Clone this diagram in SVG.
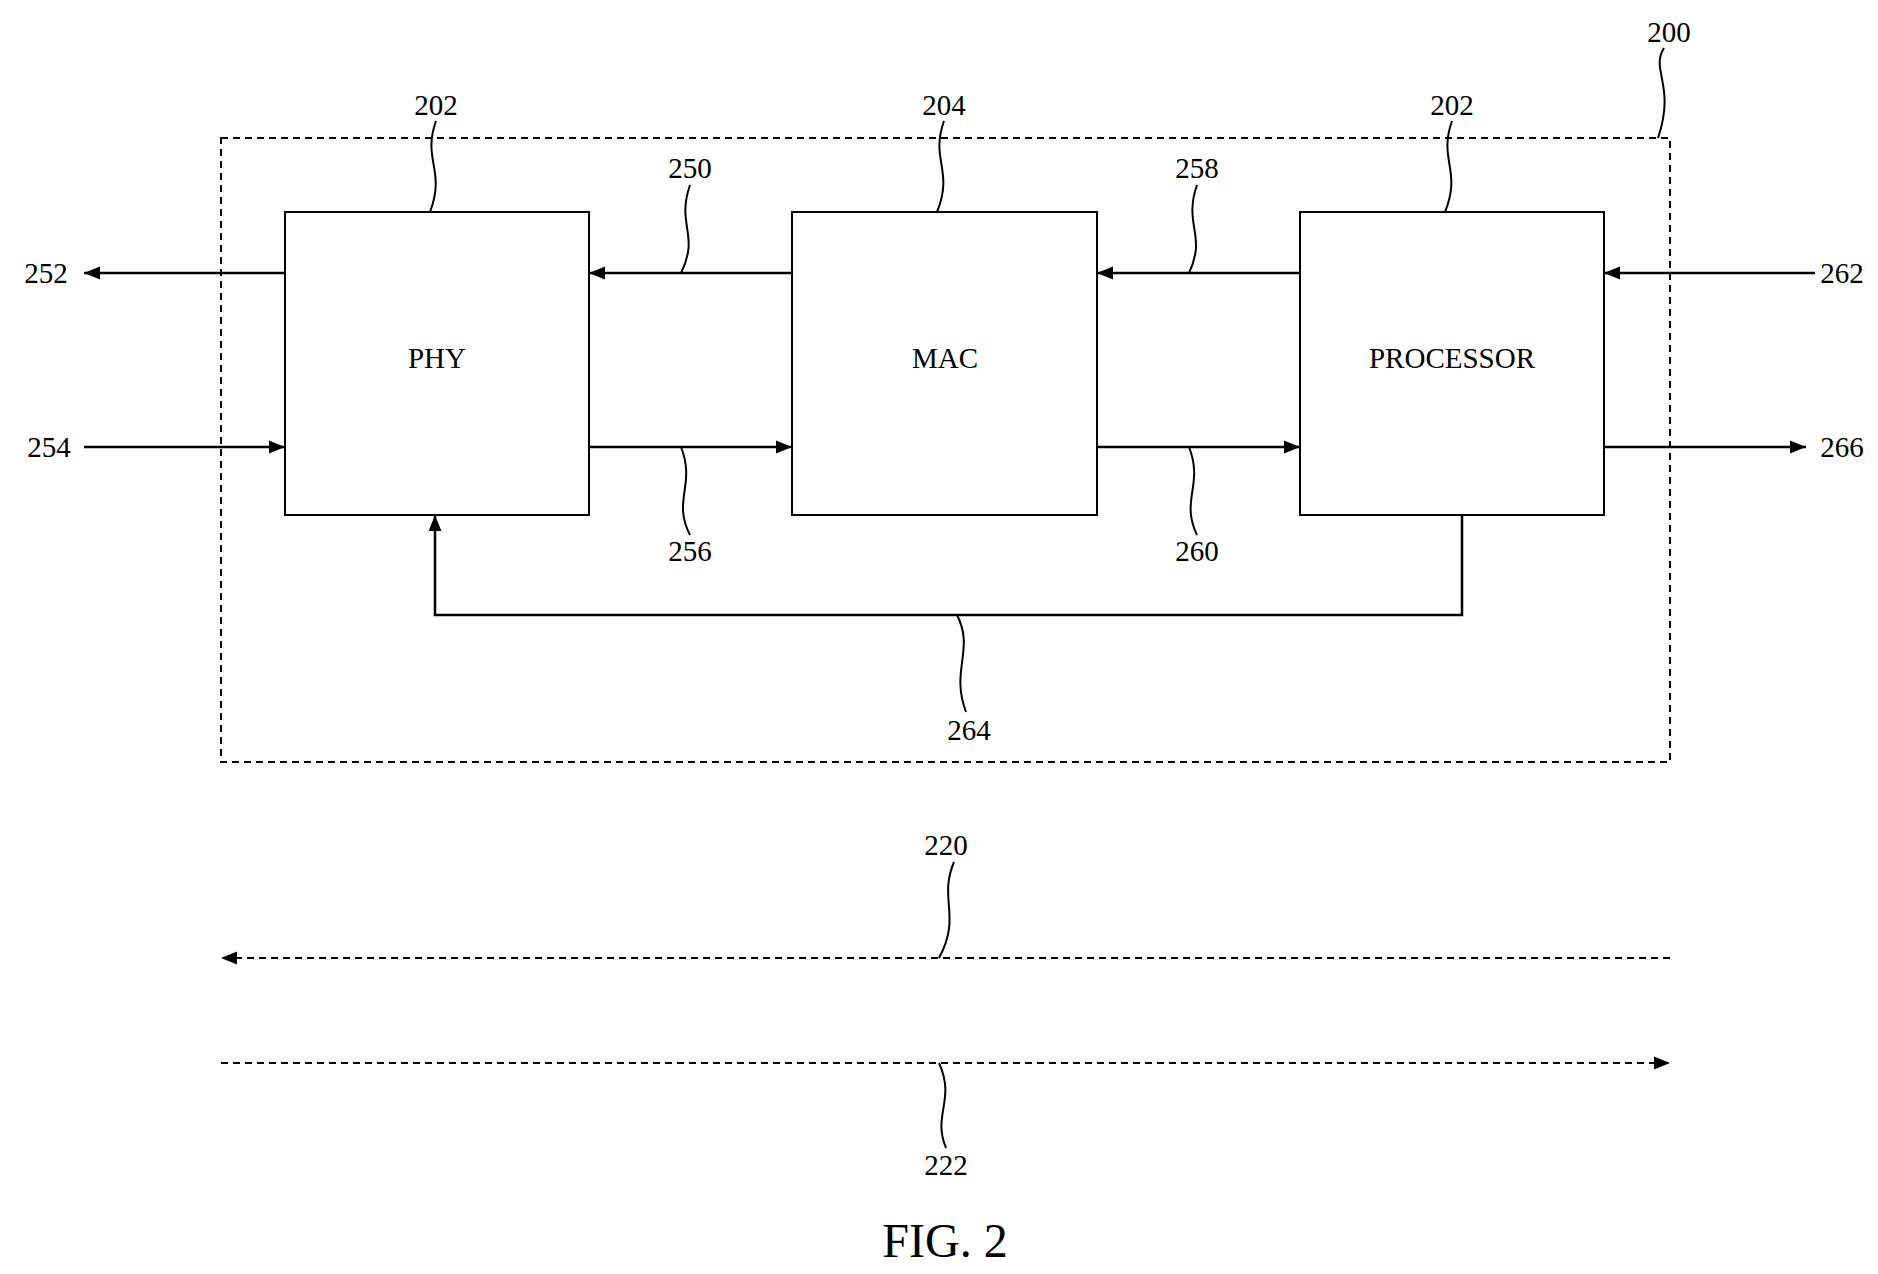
<svg xmlns="http://www.w3.org/2000/svg" width="1878" height="1274" viewBox="0 0 1878 1274">
<style>
text{font-family:"Liberation Serif","Times New Roman",serif;font-size:29px;fill:#000;text-anchor:middle}
.box{fill:#fff;stroke:#000;stroke-width:2}
.ln{fill:none;stroke:#000;stroke-width:2.5}
.sq{fill:none;stroke:#000;stroke-width:2}
.dash{fill:none;stroke:#000;stroke-width:2;stroke-dasharray:7,5}
</style>
<defs>
<marker id="ah" viewBox="0 0 10 10" refX="10" refY="5" markerWidth="7" markerHeight="7" markerUnits="userSpaceOnUse" orient="auto"><path d="M0,0 L10,5 L0,10 z" fill="#000"/></marker>
<marker id="ahb" viewBox="0 0 10 10" refX="10" refY="5" markerWidth="16" markerHeight="16" markerUnits="userSpaceOnUse" orient="auto"><path d="M0,1 L10,5 L0,9 z" fill="#000"/></marker>
</defs>
<rect width="1878" height="1274" fill="#fff"/>
<g id="system200"><rect x="221" y="138" width="1449" height="624" class="dash"/><text x="1669" y="42">200</text><path class="sq" d="M1664,48 C1650,70 1676,85 1658,138"/></g>
<g id="phy"><rect class="box" x="285" y="212" width="304" height="303"/><text x="437" y="368">PHY</text><text x="436" y="115">202</text><path class="sq" d="M436,121 C422,160 446,170 430,212"/></g>
<g id="mac"><rect class="box" x="792" y="212" width="305" height="303"/><text x="945" y="368">MAC</text><text x="944" y="115">204</text><path class="sq" d="M944,121 C930,160 954,170 937,212"/></g>
<g id="processor"><rect class="box" x="1300" y="212" width="304" height="303"/><text x="1452" y="368">PROCESSOR</text><text x="1452" y="115">202</text><path class="sq" d="M1452,121 C1438,160 1462,170 1445,212"/></g>
<g id="connectors">
<line class="ln" x1="285" y1="273" x2="84" y2="273" marker-end="url(#ahb)"/>
<line class="ln" x1="84" y1="447" x2="285" y2="447" marker-end="url(#ahb)"/>
<line class="ln" x1="792" y1="273" x2="589" y2="273" marker-end="url(#ahb)"/>
<line class="ln" x1="589" y1="447" x2="792" y2="447" marker-end="url(#ahb)"/>
<line class="ln" x1="1300" y1="273" x2="1097" y2="273" marker-end="url(#ahb)"/>
<line class="ln" x1="1097" y1="447" x2="1300" y2="447" marker-end="url(#ahb)"/>
<line class="ln" x1="1815" y1="273" x2="1604" y2="273" marker-end="url(#ahb)"/>
<line class="ln" x1="1604" y1="447" x2="1806" y2="447" marker-end="url(#ahb)"/>
<path class="ln" d="M1462,515 V615 H435 V515" marker-end="url(#ahb)"/>
<line class="dash" x1="1670" y1="958" x2="221" y2="958" marker-end="url(#ahb)"/>
<line class="dash" x1="221" y1="1063" x2="1670" y2="1063" marker-end="url(#ahb)"/>
</g>
<g id="labels">
<text x="46" y="283">252</text><text x="49" y="457">254</text>
<text x="1842" y="283">262</text><text x="1842" y="457">266</text>
<text x="690" y="178">250</text><path class="sq" d="M690,185 C676,225 700,235 681,273"/>
<text x="1197" y="178">258</text><path class="sq" d="M1197,185 C1183,225 1207,235 1189,273"/>
<text x="690" y="561">256</text><path class="sq" d="M681,447 C696,485 672,500 690,535"/>
<text x="1197" y="561">260</text><path class="sq" d="M1189,447 C1204,485 1180,500 1197,535"/>
<text x="969" y="740">264</text><path class="sq" d="M957,615 C975,650 950,670 966,712"/>
<text x="946" y="855">220</text><path class="sq" d="M954,862 C938,900 962,915 939,958"/>
<text x="946" y="1175">222</text><path class="sq" d="M939,1063 C956,1100 932,1115 946,1148"/>
<text x="945" y="1257" style="font-size:48px">FIG. 2</text>
</g>
</svg>
